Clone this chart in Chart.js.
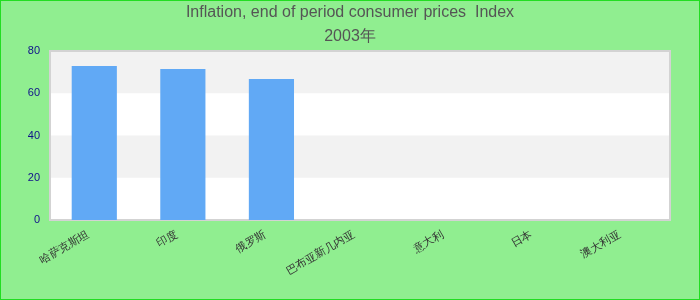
<!DOCTYPE html>
<html>
<head>
<meta charset="utf-8">
<script src="https://cdn.jsdelivr.net/npm/chart.js"></script>
<style>
html,body{margin:0;padding:0;background:#90ee90;}
#wrap{width:700px;height:300px;}
</style>
</head>
<body>
<div id="wrap"><canvas id="c" width="700" height="300"></canvas></div>
<script>
const titleLines = ["Inflation, end of period consumer prices  Index", "2003年"];
const categories = ["哈萨克斯坦", "印度", "俄罗斯", "巴布亚新几内亚", "意大利", "日本", "澳大利亚"];
const values = [72.9, 71.5, 66.7, null, null, null, null];
const yTicks = [0, 20, 40, 60, 80];
const bands = [[20, 40], [60, 80]];

const bgPlugin = {
  id: 'bgPlugin',
  beforeDraw(chart) {
    const ctx = chart.ctx;
    ctx.save();
    ctx.fillStyle = '#90ee90';
    ctx.fillRect(0, 0, chart.width, chart.height);
    ctx.strokeStyle = '#22dd22';
    ctx.lineWidth = 2;
    ctx.strokeRect(0, 0, chart.width, chart.height);
    ctx.restore();
  },
  beforeDatasetsDraw(chart) {
    const ctx = chart.ctx, a = chart.chartArea, y = chart.scales.y;
    ctx.save();
    ctx.fillStyle = '#ffffff';
    ctx.fillRect(a.left, a.top, a.right - a.left, a.bottom - a.top);
    ctx.fillStyle = '#f2f2f2';
    bands.forEach(b => {
      const y1 = y.getPixelForValue(b[1]), y0 = y.getPixelForValue(b[0]);
      ctx.fillRect(a.left, y1, a.right - a.left, y0 - y1);
    });
    ctx.strokeStyle = '#d3d3d3';
    ctx.lineWidth = 2;
    ctx.strokeRect(a.left, a.top, a.right - a.left, a.bottom - a.top);
    ctx.restore();
  }
};

new Chart(document.getElementById('c'), {
  type: 'bar',
  data: {
    labels: categories,
    datasets: [{
      data: values,
      backgroundColor: '#61a9f5',
      borderWidth: 0,
      categoryPercentage: 1,
      barPercentage: 0.51
    }]
  },
  options: {
    responsive: false,
    animation: false,
    devicePixelRatio: 1,
    layout: { padding: 0 },
    plugins: {
      legend: { display: false },
      tooltip: { enabled: false },
      title: {
        display: true,
        text: titleLines,
        color: '#555555',
        font: { family: 'Liberation Sans, Arial, sans-serif', size: 16, weight: 'normal', lineHeight: 1.5 },
        padding: { top: 1, bottom: 2 }
      }
    },
    scales: {
      x: {
        grid: { display: false, drawTicks: false },
        border: { display: false },
        ticks: {
          color: '#333333',
          font: { family: 'Liberation Sans, Arial, sans-serif', size: 11 },
          minRotation: 30, maxRotation: 30,
          autoSkip: false,
          labelOffset: -6,
          padding: 8
        },
        afterFit(s) { s.height = 80; }
      },
      y: {
        min: 0, max: 80,
        grid: { display: false, drawTicks: false },
        border: { display: false },
        afterBuildTicks(s) { s.ticks = yTicks.map(v => ({ value: v })); },
        ticks: {
          color: '#10108a',
          font: { family: 'Liberation Sans, Arial, sans-serif', size: 11 },
          padding: 10
        },
        afterFit(s) { s.width = 50; }
      },
      yRight: {
        position: 'right',
        display: true,
        min: 0, max: 80,
        grid: { display: false, drawTicks: false },
        border: { display: false },
        ticks: { display: false },
        afterFit(s) { s.width = 30; }
      }
    }
  },
  plugins: [bgPlugin]
});
</script>
</body>
</html>
